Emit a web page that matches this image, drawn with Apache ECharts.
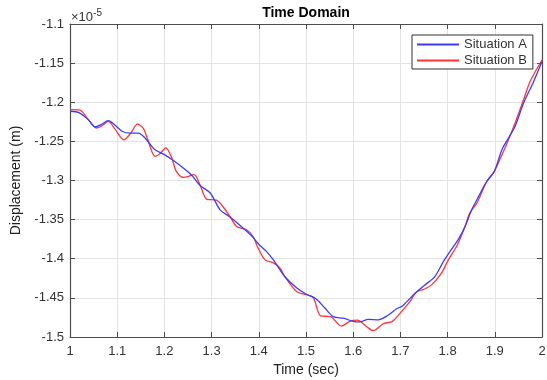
<!DOCTYPE html>
<html>
<head>
<meta charset="utf-8">
<script src="https://cdn.jsdelivr.net/npm/echarts@6/dist/echarts.min.js"></script>
<style>html,body{margin:0;padding:0;background:#fff}#c{width:547px;height:380px}</style>
</head>
<body>
<div id="c"></div>
<script>
const xTicks = [1, 1.1, 1.2, 1.3, 1.4, 1.5, 1.6, 1.7, 1.8, 1.9, 2];
const yTicks = [-1.5, -1.45, -1.4, -1.35, -1.3, -1.25, -1.2, -1.15, -1.1];
const seriesNames = ['Situation A', 'Situation B'];

const timeA = [1.000,1.020,1.040,1.053,1.066,1.081,1.095,1.110,1.128,1.145,1.159,1.170,1.180,1.200,1.222,1.240,1.257,1.275,1.297,1.318,1.335,1.350,1.370,1.385,1.400,1.416,1.431,1.455,1.480,1.500,1.521,1.540,1.558,1.579,1.600,1.614,1.632,1.653,1.674,1.692,1.705,1.731,1.752,1.773,1.791,1.805,1.822,1.837,1.851,1.866,1.883,1.899,1.915,1.929,1.943,1.961,1.981,2.000];
const valuesA = [-1.2115,-1.2135,-1.2230,-1.2316,-1.2285,-1.2236,-1.2290,-1.2370,-1.2395,-1.2395,-1.2457,-1.2540,-1.2607,-1.2670,-1.2757,-1.2840,-1.2927,-1.3060,-1.3160,-1.3375,-1.3450,-1.3520,-1.3625,-1.3710,-1.3815,-1.3906,-1.4014,-1.4227,-1.4370,-1.4450,-1.4510,-1.4630,-1.4740,-1.4760,-1.4800,-1.4807,-1.4775,-1.4780,-1.4722,-1.4640,-1.4600,-1.4440,-1.4334,-1.4228,-1.4036,-1.3908,-1.3758,-1.3588,-1.3374,-1.3200,-1.3012,-1.2884,-1.2606,-1.2457,-1.2308,-1.2010,-1.1753,-1.1480];

const timeB = [1.000,1.021,1.039,1.056,1.068,1.081,1.095,1.114,1.128,1.143,1.155,1.165,1.180,1.190,1.203,1.215,1.225,1.240,1.250,1.263,1.275,1.290,1.310,1.321,1.339,1.353,1.374,1.388,1.399,1.413,1.430,1.445,1.455,1.480,1.500,1.515,1.531,1.552,1.575,1.593,1.609,1.628,1.642,1.664,1.683,1.706,1.720,1.735,1.750,1.766,1.787,1.801,1.820,1.835,1.847,1.862,1.883,1.899,1.911,1.929,1.943,1.961,1.975,2.000];
const valuesB = [-1.2095,-1.2100,-1.2223,-1.2329,-1.2300,-1.2244,-1.2340,-1.2480,-1.2400,-1.2280,-1.2330,-1.2480,-1.2690,-1.2660,-1.2582,-1.2700,-1.2880,-1.2960,-1.2950,-1.2926,-1.3050,-1.3240,-1.3250,-1.3310,-1.3460,-1.3588,-1.3630,-1.3716,-1.3870,-1.4014,-1.4050,-1.4120,-1.4227,-1.4420,-1.4460,-1.4490,-1.4730,-1.4740,-1.4860,-1.4800,-1.4785,-1.4866,-1.4918,-1.4830,-1.4800,-1.4650,-1.4548,-1.4420,-1.4390,-1.4334,-1.4185,-1.4020,-1.3830,-1.3620,-1.3417,-1.3289,-1.3012,-1.2880,-1.2726,-1.2478,-1.2265,-1.1966,-1.1732,-1.1460];

const FONT = 'Liberation Sans, Arial, sans-serif';
const chart = echarts.init(document.getElementById('c'), null, {renderer: 'canvas'});

const hiddenLabelAxis = {
  axisLine: {show: true, lineStyle: {color: '#4d4d4d', width: 1.2}},
  axisTick: {show: true, inside: true, length: 5, lineStyle: {color: '#4d4d4d'}},
  axisLabel: {show: false},
  splitLine: {show: false}
};

chart.setOption({
  animation: false,
  backgroundColor: '#fff',
  grid: {left: 70, right: 5, top: 24, bottom: 43, containLabel: false, outerBoundsMode: 'none'},
  graphic: [
    {type: 'text', x: 306, y: 6, style: {text: 'Time Domain', font: 'bold 14px ' + FONT, fill: '#000', textAlign: 'center', textVerticalAlign: 'top'}},
    {type: 'text', left: 71, top: 8, style: {
      text: '×10{sup|-5}', font: '13px ' + FONT, fill: '#333',
      rich: {sup: {fontSize: 10, fontFamily: FONT, verticalAlign: 'top', padding: [0, 0, 8, 0], fill: '#333'}}
    }}
  ],
  legend: {
    orient: 'vertical', left: 412, top: 35,
    data: seriesNames,
    itemWidth: 42, itemHeight: 2, itemGap: 3,
    icon: 'rect',
    borderColor: '#333', borderWidth: 1, backgroundColor: '#fff',
    padding: [3, 6, 2, 5],
    textStyle: {fontFamily: FONT, fontSize: 13, color: '#333', padding: [0, 0, 0, 0]}
  },
  xAxis: [{
    type: 'value', min: 1, max: 2, interval: 0.1,
    name: 'Time (sec)', nameLocation: 'middle', nameGap: 26,
    nameTextStyle: {fontFamily: FONT, fontSize: 14, color: '#222'},
    axisLine: {show: true, onZero: false, lineStyle: {color: '#4d4d4d', width: 1.2}},
    axisTick: {show: true, inside: true, length: 5, lineStyle: {color: '#4d4d4d'}},
    axisLabel: {fontFamily: FONT, fontSize: 13, color: '#333', margin: 8,
      formatter: v => String(parseFloat(v.toFixed(1)))},
    splitLine: {show: true, lineStyle: {color: '#e3e3e3', width: 1}}
  }, Object.assign({type: 'value', min: 1, max: 2, interval: 0.1, position: 'top'}, hiddenLabelAxis)],
  yAxis: [{
    type: 'value', min: -1.5, max: -1.1, interval: 0.05,
    name: 'Displacement (m)', nameLocation: 'middle', nameGap: 46,
    nameTextStyle: {fontFamily: FONT, fontSize: 14, color: '#222'},
    axisLine: {show: true, onZero: false, lineStyle: {color: '#4d4d4d', width: 1.2}},
    axisTick: {show: true, inside: true, length: 5, lineStyle: {color: '#4d4d4d'}},
    axisLabel: {fontFamily: FONT, fontSize: 13, color: '#333', margin: 6,
      formatter: v => String(parseFloat(v.toFixed(2)))},
    splitLine: {show: true, lineStyle: {color: '#e3e3e3', width: 1}}
  }, Object.assign({type: 'value', min: -1.5, max: -1.1, interval: 0.05, position: 'right'}, hiddenLabelAxis)],
  series: [
    {name: seriesNames[0], type: 'line', smooth: 0.3, showSymbol: false,
     data: timeA.map((t, i) => [t, valuesA[i]]),
     itemStyle: {color: '#3b3bff'}, lineStyle: {color: '#3b3bff', width: 1.3}, z: 3},
    {name: seriesNames[1], type: 'line', smooth: 0.3, showSymbol: false,
     data: timeB.map((t, i) => [t, valuesB[i]]),
     itemStyle: {color: '#ff3535'}, lineStyle: {color: '#ff3535', width: 1.3}, z: 2}
  ]
});
</script>
</body>
</html>
